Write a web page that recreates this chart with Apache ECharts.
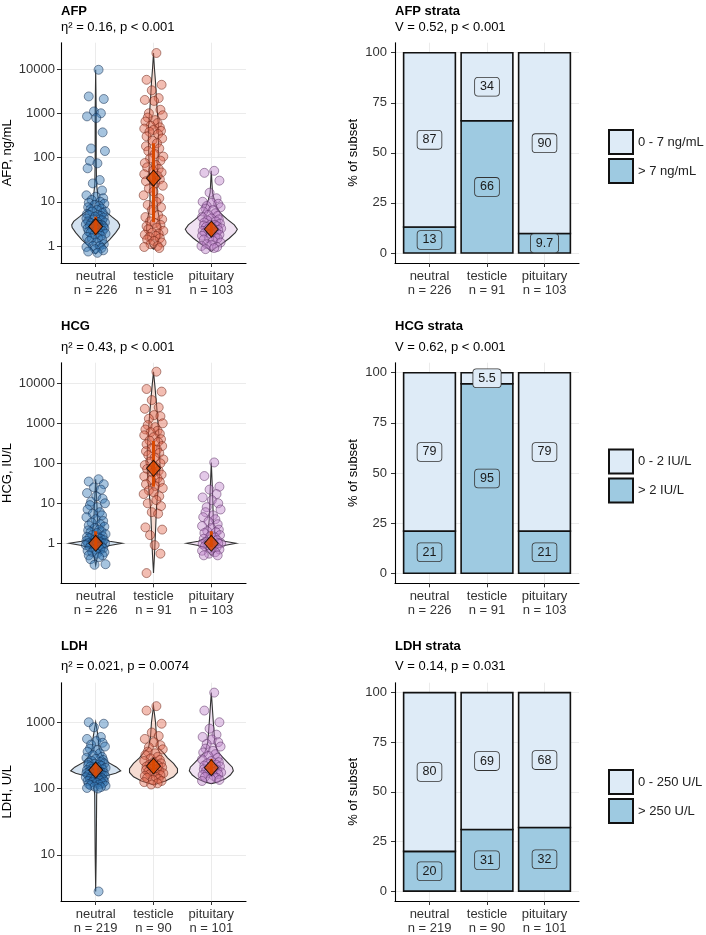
<!DOCTYPE html>
<html><head><meta charset="utf-8">
<script src="https://cdn.jsdelivr.net/npm/echarts@6/dist/echarts.min.js"></script>
<style>html,body{margin:0;padding:0;background:#fff}#c{width:706px;height:935px}</style>
</head><body><div id="c"></div>
<script>
// ---------------- DATA ----------------
const categories = ['neutral', 'testicle', 'pituitary'];
const afpN = [226, 91, 103];
const hcgN = [226, 91, 103];
const ldhN = [219, 90, 101];

const titlesLeft = ['AFP', 'HCG', 'LDH'];
const subsLeft = ['η² = 0.16, p < 0.001', 'η² = 0.43, p < 0.001', 'η² = 0.021, p = 0.0074'];
const yNamesLeft = ['AFP, ng/mL', 'HCG, IU/L', 'LDH, U/L'];
const titlesRight = ['AFP strata', 'HCG strata', 'LDH strata'];
const subsRight = ['V = 0.52, p < 0.001', 'V = 0.62, p < 0.001', 'V = 0.14, p = 0.031'];

const afpTicks = [1, 10, 100, 1000, 10000];
const hcgTicks = [1, 10, 100, 1000, 10000];
const ldhTicks = [10, 100, 1000];
const pctTicks = [0, 25, 50, 75, 100];

// strata (% of subset)
const afpLowName = '0 - 7 ng/mL', afpHighName = '> 7 ng/mL';
const hcgLowName = '0 - 2 IU/L', hcgHighName = '> 2 IU/L';
const ldhLowName = '0 - 250 U/L', ldhHighName = '> 250 U/L';
const afpLow = [87, 34, 90.3];
const afpHigh = [13, 66, 9.7];
const hcgLow = [79, 5.5, 79];
const hcgHigh = [21, 94.5, 21];
const ldhLow = [80, 69, 68];
const ldhHigh = [20, 31, 32];

// medians and interquartile ranges
const afpMedian = [2.75, 34, 2.4];
const hcgMedian = [1, 75, 1];
const ldhMedian = [190, 218, 206];
const afpIqr = [[1.8, 4.6], [3.5, 210], [1.7, 3.5]];
const hcgIqr = [[0.75, 2], [26, 360], [0.8, 2]];
const ldhIqr = [[160, 240], [170, 275], [165, 280]];

const afpNeutral = [9600, 2400, 2100, 1100, 1000, 850, 780, 370, 160, 140, 84, 74, 57, 31, 26, 18, 14, 13, 12, 11, 10, 9.5, 9, 8.5, 8, 7.5, 7, 6.8, 6.5, 6, 6, 5.6, 5.3, 5, 5, 4.8, 4.6, 4.4, 4.2, 4, 4, 3.8, 3.6, 3.5, 3.4, 3.3, 3.2, 3.1, 3, 3, 2.9, 2.8, 2.7, 2.6, 2.5, 2.5, 2.4, 2.3, 2.2, 2.1, 2, 2, 1.9, 1.8, 1.7, 1.6, 1.5, 1.5, 1.4, 1.3, 1.2, 1.1, 1, 1, 0.95, 0.9, 0.85, 0.8, 0.75, 0.7];
const afpTesticle = [23000, 5700, 4400, 3300, 2200, 2000, 1900, 1200, 1000, 900, 800, 700, 650, 600, 520, 480, 450, 420, 400, 380, 340, 300, 270, 240, 210, 180, 160, 140, 120, 105, 95, 85, 75, 68, 60, 55, 50, 46, 42, 38, 35, 32, 29, 26, 23, 20, 17, 14, 12, 10, 8.5, 7.5, 6.5, 5, 4.5, 4, 3.6, 3.3, 3, 2.8, 2.6, 2.4, 2.2, 2, 1.9, 1.8, 1.7, 1.6, 1.5, 1.4, 1.3, 1.2, 1.1, 1, 0.95, 0.9];
const afpPituitary = [50, 45, 30, 16, 12, 10, 9.5, 9, 8, 7.5, 7, 6.5, 6, 5.5, 5, 4.8, 4.5, 4.2, 4, 3.8, 3.6, 3.4, 3.2, 3, 3, 2.9, 2.8, 2.7, 2.6, 2.5, 2.4, 2.3, 2.2, 2.1, 2, 2, 1.9, 1.8, 1.7, 1.6, 1.5, 1.5, 1.4, 1.3, 1.2, 1.1, 1.05, 1, 0.95, 0.9, 0.85];
const hcgNeutral = [40, 35, 30, 25, 22, 18, 15, 13, 11, 10, 9, 8, 7, 6, 5.5, 5, 4.5, 4, 3.6, 3.3, 3, 2.8, 2.6, 2.4, 2.2, 2.1, 2, 1.9, 1.8, 1.7, 1.6, 1.5, 1.45, 1.4, 1.35, 1.3, 1.25, 1.2, 1.15, 1.1, 1.05, 1, 1, 1, 1, 0.95, 0.9, 0.9, 0.85, 0.8, 0.8, 0.75, 0.7, 0.7, 0.65, 0.6, 0.6, 0.55, 0.5, 0.5, 0.45, 0.4, 0.3, 0.29];
const hcgTesticle = [19500, 7200, 6200, 3800, 2500, 2300, 1600, 1500, 1300, 1000, 900, 800, 700, 650, 600, 550, 500, 450, 400, 370, 340, 300, 270, 240, 220, 200, 180, 160, 140, 125, 110, 100, 90, 80, 72, 65, 58, 52, 47, 42, 38, 34, 30, 27, 24, 21, 19, 17, 15, 12, 10, 8.5, 6, 5.5, 2.5, 2.2, 1.6, 0.9, 0.55, 0.18];
const hcgPituitary = [105, 48, 26, 22, 17, 14, 12, 10, 8, 7, 6, 5, 4.5, 4, 3.5, 3, 2.7, 2.4, 2.2, 2, 1.9, 1.8, 1.6, 1.5, 1.4, 1.3, 1.2, 1.1, 1.05, 1, 1, 1, 0.95, 0.9, 0.85, 0.8, 0.75, 0.7, 0.65, 0.6, 0.55, 0.5, 0.5];
const ldhNeutral = [2.8, 1000, 950, 840, 600, 560, 520, 490, 460, 430, 400, 380, 360, 340, 320, 300, 290, 280, 270, 260, 250, 245, 240, 235, 230, 225, 220, 215, 210, 205, 200, 195, 190, 185, 180, 178, 175, 172, 170, 168, 165, 162, 160, 158, 155, 152, 150, 148, 145, 142, 140, 137, 135, 132, 130, 127, 125, 122, 120, 117, 115, 112, 110, 107, 105, 102, 100];
const ldhTesticle = [1750, 1500, 950, 700, 620, 560, 500, 450, 420, 390, 360, 340, 320, 300, 285, 270, 260, 250, 240, 230, 222, 215, 208, 200, 195, 190, 185, 180, 175, 170, 165, 160, 155, 150, 145, 140, 135, 130, 125, 120, 115];
const ldhPituitary = [2800, 1500, 1000, 800, 650, 600, 550, 500, 470, 430, 400, 370, 350, 330, 310, 290, 275, 260, 250, 240, 230, 222, 215, 208, 200, 195, 190, 185, 180, 175, 170, 165, 160, 155, 150, 145, 140, 135, 130];

// horizontal jitter of the points (category units)
const jitter = [0.05, -0.12, 0.14, -0.03, 0.09, -0.15, 0.01, 0.12, -0.08, 0.16, -0.1, 0.03, -0.14, 0.07, -0.05, 0.11, -0.16, 0.0, 0.13, -0.07, 0.08, -0.12, 0.15, -0.02, 0.06, -0.13, 0.1, -0.09, 0.02, 0.17, -0.06, 0.12, -0.15, 0.04, -0.11, 0.09, -0.01, 0.14, -0.16, 0.07, -0.04, 0.11, -0.13, 0.03, 0.16, -0.08, 0.0, -0.17, 0.1, 0.05, -0.1, 0.13, -0.03, 0.08, -0.14, 0.15, -0.06, 0.02, 0.12, -0.12, 0.06, -0.09, 0.17, -0.02, 0.09, -0.15, 0.04, -0.07, 0.11, -0.11, 0.01, 0.14, -0.05, 0.07, -0.16, 0.1, -0.01, 0.13, -0.13, 0.03, 0.16, -0.08, 0.05, -0.04, 0.12, -0.1, 0.08, -0.14, 0.0, 0.15];

// violin profiles: [value, half-width in category units]
const afpViolins = [
  [[0.66, 0], [0.8, 0.052], [1.0, 0.121], [1.4, 0.242], [2.0, 0.346], [2.6, 0.407], [3.0, 0.415], [3.6, 0.38], [4.6, 0.277], [6, 0.173], [7.8, 0.087], [10, 0.052], [14, 0.035], [25, 0.015], [100, 0.009], [1000, 0.009], [9600, 0]],
  [[0.85, 0], [1, 0.052], [1.5, 0.104], [2.5, 0.121], [4, 0.104], [6, 0.078], [10, 0.061], [20, 0.061], [40, 0.069], [80, 0.078], [200, 0.087], [500, 0.087], [1000, 0.069], [2000, 0.052], [5000, 0.035], [10000, 0.017], [23000, 0]],
  [[0.75, 0], [0.9, 0.069], [1.1, 0.173], [1.5, 0.311], [2.0, 0.415], [2.4, 0.45], [3.0, 0.398], [4, 0.277], [5.5, 0.156], [8, 0.087], [11, 0.052], [16, 0.02], [50, 0]]
];
const hcgViolins = [
  [[0.28, 0], [0.4, 0.02], [0.6, 0.052], [0.75, 0.104], [0.88, 0.242], [1.0, 0.458], [1.12, 0.242], [1.35, 0.104], [1.8, 0.061], [3, 0.035], [10, 0.02], [40, 0]],
  [[0.18, 0], [0.5, 0.017], [2, 0.035], [8, 0.052], [20, 0.078], [50, 0.104], [100, 0.112], [300, 0.104], [1000, 0.078], [3000, 0.052], [8000, 0.026], [19500, 0]],
  [[0.5, 0], [0.6, 0.052], [0.75, 0.104], [0.88, 0.225], [1.0, 0.427], [1.12, 0.225], [1.35, 0.104], [1.8, 0.061], [4, 0.035], [20, 0.02], [105, 0]]
];
const ldhViolins = [
  [[2.8, 0], [10, 0.009], [80, 0.017], [120, 0.035], [140, 0.061], [155, 0.173], [170, 0.346], [185, 0.433], [210, 0.363], [250, 0.208], [310, 0.112], [400, 0.061], [600, 0.043], [1000, 0]],
  [[113, 0], [120, 0.087], [130, 0.208], [150, 0.346], [175, 0.415], [200, 0.415], [240, 0.346], [290, 0.242], [345, 0.173], [410, 0.087], [600, 0.052], [1000, 0.035], [1750, 0]],
  [[118, 0], [125, 0.104], [140, 0.242], [160, 0.329], [185, 0.381], [210, 0.363], [250, 0.277], [300, 0.19], [365, 0.104], [500, 0.061], [1000, 0.035], [2800, 0]]
];

// ---------------- LAYOUT / STYLE ----------------
const FONT = "'Liberation Sans', Arial, Helvetica, sans-serif";
const rows = [{ top: 42.7, h: 220.3 }, { top: 362.7, h: 220.6 }, { top: 682.7, h: 220.6 }];
const titleTops = [5, 320, 640];
const subTops = [21, 340.5, 660];
const legendTops = [129, 448.5, 769];
const ptFill = ['rgba(52,120,182,0.55)', 'rgba(226,104,80,0.55)', 'rgba(192,132,202,0.55)'];
const ptStroke = ['rgba(18,42,75,0.8)', 'rgba(105,32,18,0.8)', 'rgba(88,48,98,0.8)'];
const violFill = ['#D3E2F0', '#F6DCD2', '#F0E1F2'];
const ACCENT = '#D94801';
const LOWC = '#DEEBF7', HIGHC = '#9ECAE1';
const GRIDC = '#EBEBEB';
const BAR_HALF = 0.45;

const panels = [
  { n: afpN, ticks: afpTicks, ymin: 0.413, ymax: 39300, pts: [afpNeutral, afpTesticle, afpPituitary], viol: afpViolins, med: afpMedian, iqr: afpIqr,
    low: afpLow, high: afpHigh, lowName: afpLowName, highName: afpHighName },
  { n: hcgN, ticks: hcgTicks, ymin: 0.1, ymax: 32700, pts: [hcgNeutral, hcgTesticle, hcgPituitary], viol: hcgViolins, med: hcgMedian, iqr: hcgIqr,
    low: hcgLow, high: hcgHigh, lowName: hcgLowName, highName: hcgHighName },
  { n: ldhN, ticks: ldhTicks, ymin: 2.01, ymax: 3950, pts: [ldhNeutral, ldhTesticle, ldhPituitary], viol: ldhViolins, med: ldhMedian, iqr: ldhIqr,
    low: ldhLow, high: ldhHigh, lowName: ldhLowName, highName: ldhHighName }
];

const option = {
  animation: false, backgroundColor: '#fff', textStyle: { fontFamily: FONT },
  title: [], legend: [], grid: [], xAxis: [], yAxis: [], series: []
};

function xAxisFor(gi, nArr) {
  return {
    gridIndex: gi, type: 'value', min: 0.4, max: 3.6,
    axisLine: { show: true, onZero: false, lineStyle: { color: '#000', width: 1.1 } },
    axisTick: { show: true, customValues: [1, 2, 3], length: 4, lineStyle: { color: '#333', width: 1 } },
    axisLabel: { customValues: [1, 2, 3], fontSize: 13, lineHeight: 14, color: '#333', margin: 6, fontFamily: FONT,
      formatter: v => { const i = Math.round(v) - 1; return categories[i] + '\nn = ' + nArr[i]; } },
    splitLine: { show: true, lineStyle: { color: GRIDC, width: 1 } }
  };
}

function barSeries(name, color, xi, segs) {
  return {
    type: 'custom', name: name, xAxisIndex: xi, yAxisIndex: xi, z: 2, silent: true,
    itemStyle: { color: color, borderColor: '#111', borderWidth: 1.6 },
    data: segs,
    renderItem: (params, api) => {
      const g = api.value(0), s = api.value(1), e = api.value(2), v = api.value(3);
      const a = api.coord([g - BAR_HALF, e]);
      const b = api.coord([g + BAR_HALF, s]);
      const m = api.coord([g, (s + e) / 2]);
      return {
        type: 'group', children: [
          { type: 'rect', shape: { x: a[0], y: a[1], width: b[0] - a[0], height: b[1] - a[1] },
            style: { fill: color, stroke: '#111', lineWidth: 1.6 } },
          { type: 'text', x: m[0], y: m[1], z2: 20,
            style: { text: String(+(+v).toPrecision(2)), align: 'center', verticalAlign: 'middle',
              fontSize: 12.5, fontFamily: FONT, fill: '#1a1a1a', backgroundColor: color,
              borderColor: '#333', borderWidth: 0.8, borderRadius: 3, padding: [3, 5, 2, 5] } }
        ]
      };
    }
  };
}

panels.forEach((p, r) => {
  const gl = 2 * r, gr = 2 * r + 1;
  option.grid.push({ left: 61, top: rows[r].top, width: 185, height: rows[r].h });
  option.grid.push({ left: 395, top: rows[r].top, width: 184, height: rows[r].h });

  option.title.push({ text: titlesLeft[r], left: 61, top: titleTops[r], padding: 0, textStyle: { fontSize: 13, fontWeight: 'bold', color: '#000', fontFamily: FONT } });
  option.title.push({ text: subsLeft[r], left: 61, top: subTops[r], padding: 0, textStyle: { fontSize: 13, fontWeight: 'normal', color: '#000', fontFamily: FONT } });
  option.title.push({ text: titlesRight[r], left: 395, top: titleTops[r], padding: 0, textStyle: { fontSize: 13, fontWeight: 'bold', color: '#000', fontFamily: FONT } });
  option.title.push({ text: subsRight[r], left: 395, top: subTops[r], padding: 0, textStyle: { fontSize: 13, fontWeight: 'normal', color: '#000', fontFamily: FONT } });

  option.xAxis.push(xAxisFor(gl, p.n));
  option.xAxis.push(xAxisFor(gr, p.n));

  option.yAxis.push({
    gridIndex: gl, type: 'log', logBase: 10, min: p.ymin, max: p.ymax,
    name: yNamesLeft[r], nameLocation: 'middle', nameGap: 47,
    nameTextStyle: { fontSize: 13, color: '#000', fontFamily: FONT },
    axisLine: { show: true, onZero: false, lineStyle: { color: '#000', width: 1.1 } },
    axisTick: { show: true, customValues: p.ticks, length: 4, lineStyle: { color: '#333' } },
    axisLabel: { customValues: p.ticks, fontSize: 13, color: '#333', margin: 6, fontFamily: FONT, formatter: v => String(Math.round(v)) },
    splitLine: { show: true, lineStyle: { color: GRIDC, width: 1 } },
    minorSplitLine: { show: false }
  });
  option.yAxis.push({
    gridIndex: gr, type: 'value', min: -5, max: 105,
    name: '% of subset', nameLocation: 'middle', nameGap: 35,
    nameTextStyle: { fontSize: 13, color: '#000', fontFamily: FONT },
    axisLine: { show: true, onZero: false, lineStyle: { color: '#000', width: 1.1 } },
    axisTick: { show: true, customValues: pctTicks, length: 4, lineStyle: { color: '#333' } },
    axisLabel: { customValues: pctTicks, fontSize: 13, color: '#333', margin: 8, fontFamily: FONT },
    splitLine: { show: true, lineStyle: { color: GRIDC, width: 1 } }
  });

  // violins
  option.series.push({
    type: 'custom', xAxisIndex: gl, yAxisIndex: gl, z: 1, silent: true,
    data: p.med.map((m, i) => [i + 1, m]),
    renderItem: (params, api) => {
      const g = api.value(0);
      const prof = p.viol[g - 1];
      const pts = [];
      prof.forEach(q => pts.push(api.coord([g + q[1], q[0]])));
      for (let k = prof.length - 1; k >= 0; k--) pts.push(api.coord([g - prof[k][1], prof[k][0]]));
      return { type: 'polygon', shape: { points: pts }, style: { fill: violFill[g - 1], stroke: '#333', lineWidth: 1.1 } };
    }
  });
  // points
  p.pts.forEach((arr, gi) => {
    option.series.push({
      type: 'scatter', xAxisIndex: gl, yAxisIndex: gl, z: 2, silent: true,
      symbolSize: 9,
      data: arr.map((y, i) => [gi + 1 + jitter[i % jitter.length], y]),
      itemStyle: { color: ptFill[gi], borderColor: ptStroke[gi], borderWidth: 0.8 }
    });
  });
  // IQR lines
  option.series.push({
    type: 'custom', xAxisIndex: gl, yAxisIndex: gl, z: 3, silent: true,
    data: p.iqr.map((q, i) => [i + 1, q[0], q[1]]),
    renderItem: (params, api) => {
      const g = api.value(0);
      const a = api.coord([g, api.value(1)]);
      const b = api.coord([g, api.value(2)]);
      return { type: 'line', shape: { x1: a[0], y1: a[1], x2: b[0], y2: b[1] }, style: { stroke: ACCENT, lineWidth: 3 } };
    }
  });
  // medians
  option.series.push({
    type: 'scatter', xAxisIndex: gl, yAxisIndex: gl, z: 4, silent: true,
    symbol: 'diamond', symbolSize: [14, 16],
    data: p.med.map((m, i) => [i + 1, m]),
    itemStyle: { color: ACCENT, borderColor: '#000', borderWidth: 1 }
  });

  // strata bars: bottom segment = high, top segment = low (stacked to 100 %)
  option.series.push(barSeries(p.highName, HIGHC, gr, p.high.map((v, i) => [i + 1, 0, v, v])));
  option.series.push(barSeries(p.lowName, LOWC, gr, p.low.map((v, i) => [i + 1, p.high[i], p.high[i] + v, v])));

  option.legend.push({
    data: [p.lowName, p.highName], orient: 'vertical', left: 608, top: legendTops[r],
    icon: 'rect', itemWidth: 24, itemHeight: 24, itemGap: 3, selectedMode: false, padding: 0,
    itemStyle: { borderColor: '#111', borderWidth: 2 },
    textStyle: { fontSize: 13, color: '#222', fontFamily: FONT }
  });
});

const chart = echarts.init(document.getElementById('c'), null, { renderer: 'canvas' });
chart.setOption(option);
</script></body></html>
